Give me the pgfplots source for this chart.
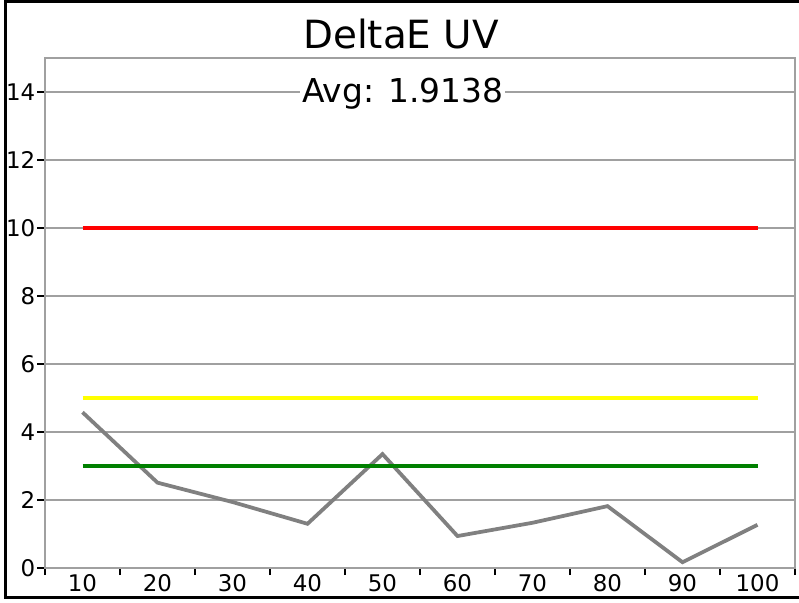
\documentclass[border=0pt]{standalone}
\usepackage{fontspec}
\setmainfont{DejaVu Sans}
\usepackage{pgfplots}
\pgfplotsset{compat=1.18}
\definecolor{gridgray}{RGB}{160,160,160}
\definecolor{linegray}{RGB}{128,128,128}
\definecolor{dgreen}{RGB}{0,128,0}
\definecolor{yel}{RGB}{255,255,0}
\begin{document}
\begin{tikzpicture}
\useasboundingbox (0,0) rectangle (799bp,603bp);
\fill[white] (0,0) rectangle (799bp,603bp);
\begin{axis}[
 at={(45bp,35bp)}, anchor=south west,
 width=750bp, height=510bp, scale only axis,
 xmin=-0.5, xmax=9.5, ymin=0, ymax=15,
 xtick={0,1,2,3,4,5,6,7,8,9},
 xticklabels={10,20,30,40,50,60,70,80,90,100},
 minor xtick={-0.5,0.5,1.5,2.5,3.5,4.5,5.5,6.5,7.5,8.5,9.5},
 ytick={0,2,4,6,8,10,12,14},
 ymajorgrids, grid style={gridgray, line width=1.6bp},
 axis line style={gridgray, line width=1.6bp},
 tick align=outside, tick pos=left,
 major tick length=8bp, minor tick length=7bp,
 every tick/.style={black, line width=1.5bp},
 major x tick style={draw=none},
 tick label style={font=\fontsize{23}{27}\selectfont},
 /pgf/number format/assume math mode=true,
 yticklabel style={inner sep=1.5bp},
 xticklabel style={inner sep=0.5bp, yshift=2.5bp},
 clip=false,
]
\addplot[linegray, line width=3.75bp] coordinates {
(0,4.58) (1,2.51) (2,1.94) (3,1.30) (4,3.35) (5,0.94) (6,1.33) (7,1.82) (8,0.17) (9,1.27)};
\addplot[red, line width=3.75bp] coordinates {(0,10) (9,10)};
\addplot[yel, line width=3.75bp] coordinates {(0,5) (9,5)};
\addplot[dgreen, line width=3.75bp] coordinates {(0,3) (9,3)};
\node[fill=white, inner sep=2bp, anchor=base, yshift=-11bp, font=\fontsize{33}{38}\selectfont] at (axis cs:4.27,14) {Avg: 1.9138};
\end{axis}
\node[anchor=base, font=\fontsize{39}{44}\selectfont] at (401bp,554bp) {DeltaE UV};
\draw[black, line width=3bp] (799bp,601.5bp) -- (5bp,601.5bp) -- (5bp,5bp) -- (799bp,5bp);
\end{tikzpicture}
\end{document}
